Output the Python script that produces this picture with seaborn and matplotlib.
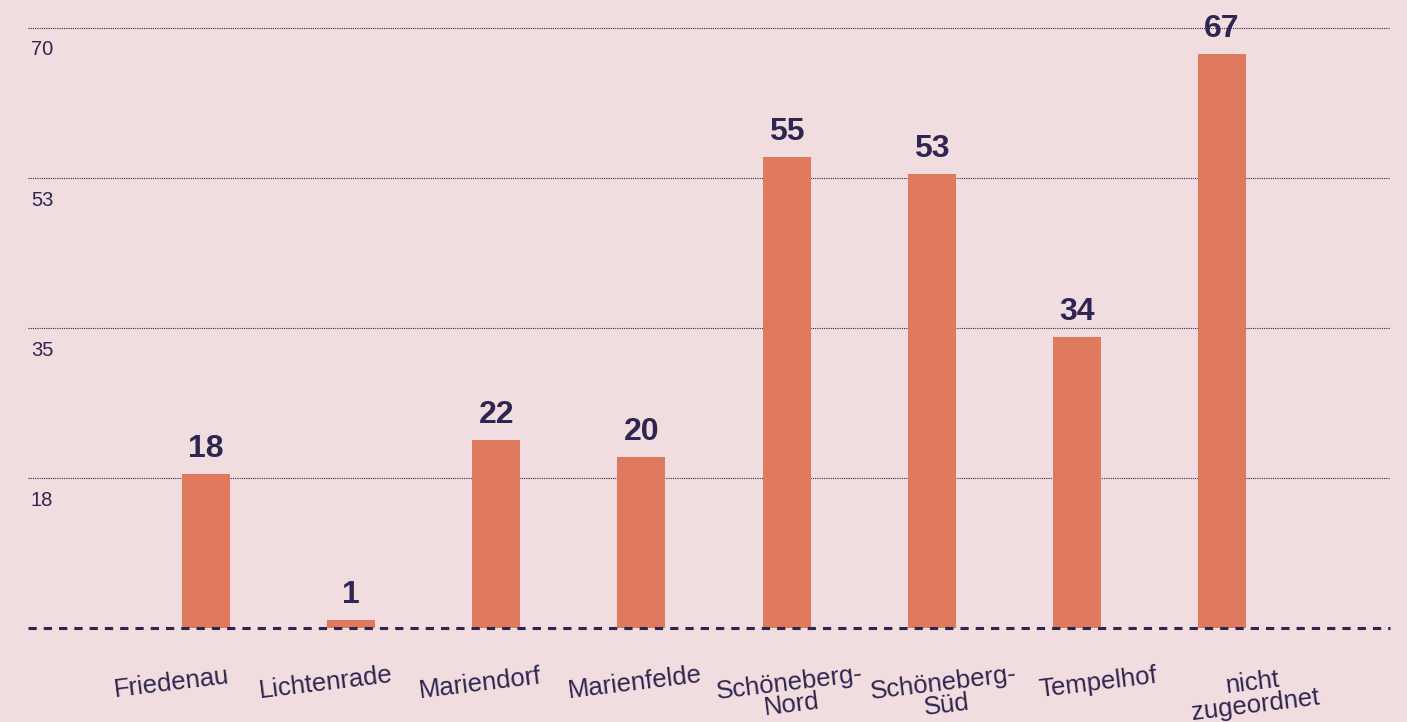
import matplotlib
matplotlib.use("Agg")
import matplotlib.pyplot as plt
import seaborn as sns
import pandas as pd

# data
districts = ["Friedenau", "Lichtenrade", "Mariendorf", "Marienfelde",
             "Schöneberg-\nNord", "Schöneberg-\nSüd", "Tempelhof", "nicht\nzugeordnet"]
counts = [18, 1, 22, 20, 55, 53, 34, 67]
grid_values = [17.5, 35, 52.5, 70]
grid_labels = ["18", "35", "53", "70"]

BG = "#F1DCDF"
BAR = "#E07A5E"
INK = "#2E2650"

sns.set_style("white", {"axes.facecolor": BG, "figure.facecolor": BG})
plt.rcParams["font.family"] = ["Liberation Sans", "DejaVu Sans"]

df = pd.DataFrame({"district": districts, "count": counts})

fig = plt.figure(figsize=(14.07, 7.22), dpi=100)
ax = fig.add_axes([0.0199, 0.130, 0.968, 0.8526])

sns.barplot(data=df, x="district", y="count", color=BAR, width=0.33,
            saturation=1, linewidth=0, ax=ax, zorder=2)

ax.set_xlim(-1.226, 8.157)
ax.set_ylim(0, 71.8)

# dotted gridlines with labels sitting under the line
ax.set_yticks(grid_values)
ax.set_yticklabels([])
ax.tick_params(axis="y", length=0)
ax.yaxis.grid(True, linestyle=(0, (1, 1)), color=INK, linewidth=0.8, zorder=0)
for v, lab in zip(grid_values, grid_labels):
    ax.annotate(lab, xy=(0, v), xycoords=("axes fraction", "data"),
                xytext=(2, -9), textcoords="offset points",
                ha="left", va="top", fontsize=14.5, color=INK)

# dashed baseline drawn over the bars
ax.axhline(0, color=INK, linewidth=2.2, linestyle=(0, (2.7, 2.3)),
           zorder=4, clip_on=False)

# value labels
for c in ax.containers:
    ax.bar_label(c, labels=[str(v) for v in counts], padding=7,
                 fontsize=23, fontweight="bold", color=INK, zorder=5)

# category labels: slightly tilted and fanned out a little from the centre
ax.set_xticklabels([])
ax.tick_params(axis="x", length=0)
mid = (len(districts) - 1) / 2
for i, name in enumerate(districts):
    dx = (-3.5 + 9.3 * (i - mid)) * 0.72
    ax.annotate(name, xy=(i, 0), xycoords=("data", "axes fraction"),
                xytext=(dx, -31), textcoords="offset points",
                ha="center", va="top", rotation=7, rotation_mode="anchor",
                multialignment="center", linespacing=0.9,
                fontsize=18.5, color=INK, annotation_clip=False)

ax.set_xlabel("")
ax.set_ylabel("")
sns.despine(ax=ax, left=True, bottom=True)

fig.savefig("out.png", dpi=100, facecolor=BG)
